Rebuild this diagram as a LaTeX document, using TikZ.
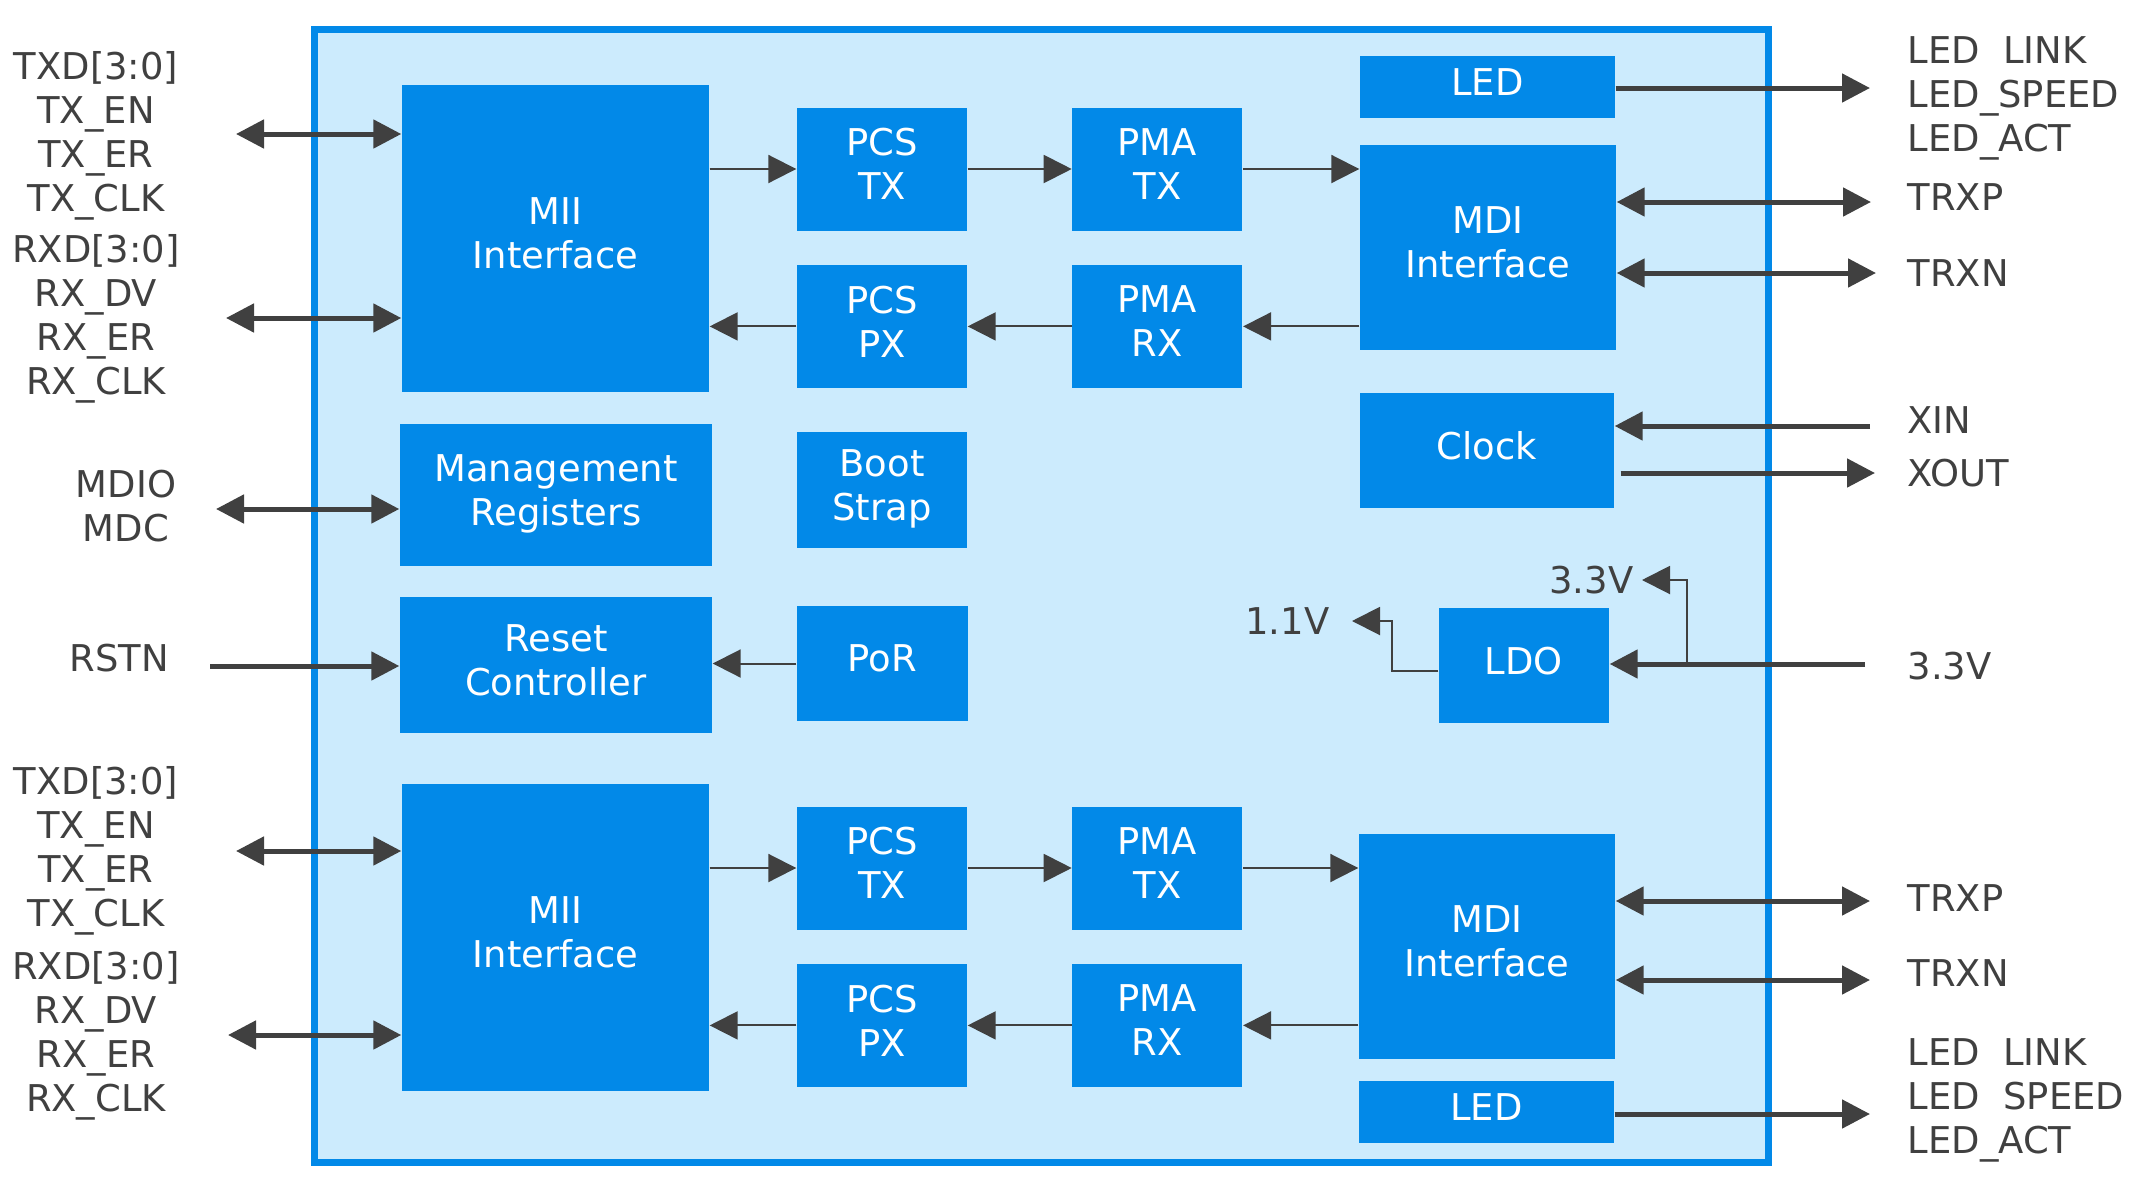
\documentclass[tikz,border=0pt]{standalone}
\usepackage{fontspec}
\setmainfont{DejaVu Sans}
\usetikzlibrary{arrows.meta, positioning}
\definecolor{chipblue}{HTML}{0289E8}
\definecolor{chipbg}{HTML}{CCEBFD}
\definecolor{wire}{HTML}{404040}

\begin{document}
\begin{tikzpicture}[x=0.1mm,y=-0.1mm,
  >={Triangle[length=2.8mm,width=2.8mm]},
  every node/.style={font=\fontsize{10.5pt}{12.5pt}\selectfont,text=wire},
  box/.style={fill=chipblue,text=white,align=center,inner sep=0pt,text depth=1mm},
  pblk/.style={box,minimum width=17mm,minimum height=12.3mm},
  bus/.style={draw=wire,line width=.5mm},
  sig/.style={draw=wire,line width=.2mm},
  pin/.style={align=center,inner sep=0pt}]
 \useasboundingbox (0,0) rectangle (2150,1179);
 \node[draw=chipblue,fill=chipbg,line width=.7mm,minimum width=145.4mm,
   minimum height=113.3mm,inner sep=0pt] (chip) at (1041,596) {};

 % port A
 \node[box,minimum width=30.7mm,minimum height=30.7mm] (miiA) at (555.5,238.5)
   {MII\\Interface};
 \node[pblk] (pcstxA) at (882,169) {PCS\\TX};
 \node[pblk,right=10.4mm of pcstxA] (pmatxA) {PMA\\TX};
 \node[pblk,below=3.3mm of pcstxA] (pcsrxA) {PCS\\PX};
 \node[pblk,right=10.4mm of pcsrxA] (pmarxA) {PMA\\RX};
 \node[box,minimum width=25.5mm,minimum height=6.2mm] (ledA) at (1487.5,87) {LED};
 \node[box,minimum width=25.6mm,minimum height=20.5mm] (mdiA) at (1488,247.5)
   {MDI\\Interface};

 % common blocks
 \node[box,minimum width=25.4mm,minimum height=11.5mm] (clock) at (1487,450.5) {Clock};
 \node[box,minimum width=31.2mm,minimum height=14.2mm] (mgmt) at (556,495)
   {Management\\Registers};
 \node[box,minimum width=17mm,minimum height=11.6mm] (boot) at (882,490) {Boot\\Strap};
 \node[box,minimum width=31.2mm,minimum height=13.6mm] (reset) at (556,665)
   {Reset\\Controller};
 \node[box,minimum width=17.1mm,minimum height=11.5mm] (por) at (882.5,663.5) {PoR};
 \node[box,minimum width=17mm,minimum height=11.5mm] (ldo) at (1524,665.5) {LDO};

 % port B
 \node[box,minimum width=30.7mm,minimum height=30.7mm] (miiB) at (555.5,937.5)
   {MII\\Interface};
 \node[pblk] (pcstxB) at (882,868) {PCS\\TX};
 \node[pblk,right=10.4mm of pcstxB] (pmatxB) {PMA\\TX};
 \node[pblk,below=3.3mm of pcstxB] (pcsrxB) {PCS\\PX};
 \node[pblk,right=10.4mm of pcsrxB] (pmarxB) {PMA\\RX};
 \node[box,minimum width=25.6mm,minimum height=22.5mm] (mdiB) at (1487,946.5)
   {MDI\\Interface};
 \node[box,minimum width=25.5mm,minimum height=6.2mm] (ledB) at (1486.5,1112) {LED};

 % pins
 \node[pin] (txdA) at (96,136) {TXD[3:0]\\TX\_EN\\TX\_ER\\TX\_CLK};
 \node[pin] (rxdA) at (96,319) {RXD[3:0]\\RX\_DV\\RX\_ER\\RX\_CLK};
 \node[pin] (mdioL) at (126,506) {MDIO\\MDC};
 \node[pin] (rstnL) at (119,658) {RSTN};
 \node[pin] (txdB) at (96,851) {TXD[3:0]\\TX\_EN\\TX\_ER\\TX\_CLK};
 \node[pin] (rxdB) at (96,1036) {RXD[3:0]\\RX\_DV\\RX\_ER\\RX\_CLK};
 \node[pin,anchor=west,align=left] (ledLA) at (1907,98.5)
   {LED~~LINK\\LED\_SPEED\\LED\_ACT};
 \node[pin,anchor=west] (trxpLA) at (1907,197) {TRXP};
 \node[pin,anchor=west] (trxnLA) at (1907,273) {TRXN};
 \node[pin,anchor=west] (xinL) at (1907,420) {XIN};
 \node[pin,anchor=west] (xoutL) at (1907,473) {XOUT};
 \node[pin,anchor=west] (vinL) at (1907,666) {3.3V};
 \node[pin,anchor=west] (trxpLB) at (1907,898) {TRXP};
 \node[pin,anchor=west] (trxnLB) at (1907,973) {TRXN};
 \node[pin,anchor=west,align=left] (ledLB) at (1907,1100)
   {LED~~LINK\\LED~~SPEED\\LED\_ACT};

 % free ends
 \coordinate (txA) at (236,134);
 \coordinate (rxA) at (226,318);
 \coordinate (mdc) at (216,509);
 \coordinate (rst) at (210,666);
 \coordinate (txB) at (236,851);
 \coordinate (rxB) at (228,1035);
 \coordinate (ledoA) at (1870,88);
 \coordinate (trxpA) at (1871,202);
 \coordinate (trxnA) at (1876,273);
 \coordinate (xin) at (1870,426);
 \coordinate (xout) at (1875,473);
 \coordinate (vin) at (1865,664);
 \coordinate (vtap) at (1687,664);
 \coordinate (v33) at (1642,580);
 \coordinate (v11) at (1352,621);
 \coordinate (trxpB) at (1870,901);
 \coordinate (trxnB) at (1870,980);
 \coordinate (ledoB) at (1870,1114);
 \node[pin,left=0.8mm of v33] (v33L) {3.3V};
 \node[pin,left=2.2mm of v11] (v11L) {1.1V};

 % data path A
 \draw[sig,->] (pcstxA.west -| miiA.east) -- (pcstxA.west);
 \draw[sig,->] (pcstxA) -- (pmatxA);
 \draw[sig,->] (pmatxA.east) -- (pmatxA.east -| mdiA.west);
 \draw[sig,->] (pmarxA.east -| mdiA.west) -- (pmarxA.east);
 \draw[sig,->] (pmarxA) -- (pcsrxA);
 \draw[sig,->] (pcsrxA.west) -- (pcsrxA.west -| miiA.east);
 % data path B
 \draw[sig,->] (pcstxB.west -| miiB.east) -- (pcstxB.west);
 \draw[sig,->] (pcstxB) -- (pmatxB);
 \draw[sig,->] (pmatxB.east) -- (pmatxB.east -| mdiB.west);
 \draw[sig,->] (pmarxB.east -| mdiB.west) -- (pmarxB.east);
 \draw[sig,->] (pmarxB) -- (pcsrxB);
 \draw[sig,->] (pcsrxB.west) -- (pcsrxB.west -| miiB.east);

 % external
 \draw[bus,<->] (txA) -- (txA -| miiA.west);
 \draw[bus,<->] (rxA) -- (rxA -| miiA.west);
 \draw[bus,<->] (mdc) -- (mdc -| mgmt.west);
 \draw[bus,->] (rst) -- (rst -| reset.west);
 \draw[sig,->] (por.west) -- (por.west -| reset.east);
 \draw[bus,<->] (txB) -- (txB -| miiB.west);
 \draw[bus,<->] (rxB) -- (rxB -| miiB.west);
 \draw[bus,->] (ledA.east |- ledoA) -- (ledoA);
 \draw[bus,<->] (mdiA.east |- trxpA) -- (trxpA);
 \draw[bus,<->] (mdiA.east |- trxnA) -- (trxnA);
 \draw[bus,->] (xin) -- (xin -| clock.east);
 \draw[bus,->] ([xshift=.6mm]clock.east |- xout) -- (xout);
 \draw[bus,->] (vin) -- (vin -| ldo.east);
 \draw[sig,->] (vtap) |- (v33);
 \draw[sig,->] ([yshift=-.5mm]ldo.west) -- ++(-46,0) |- (v11);
 \draw[bus,<->] (mdiB.east |- trxpB) -- (trxpB);
 \draw[bus,<->] (mdiB.east |- trxnB) -- (trxnB);
 \draw[bus,->] (ledB.east |- ledoB) -- (ledoB);
\end{tikzpicture}
\end{document}
